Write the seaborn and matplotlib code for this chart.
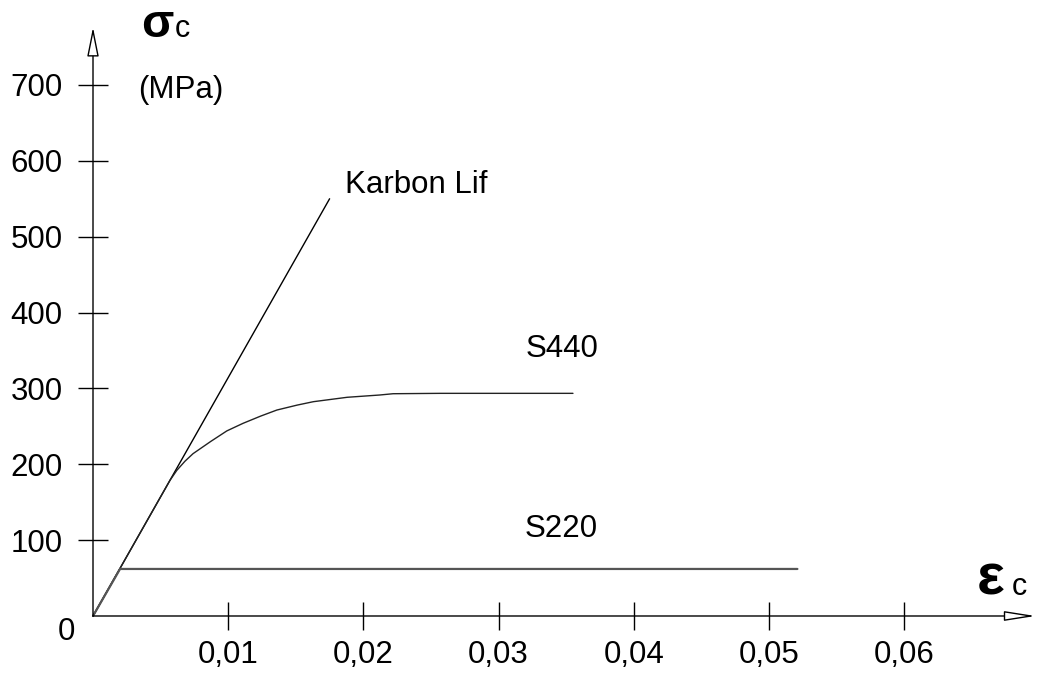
import matplotlib
matplotlib.use("Agg")
import matplotlib.pyplot as plt
import seaborn as sns
import pandas as pd

# Stress-strain curves (strain, stress in MPa)
carbon_eps = [0.0, 0.0175]
carbon_sig = [0.0, 550.0]

s440_eps = [0.0, 0.0057, 0.0062, 0.0068, 0.0074, 0.0087, 0.0099, 0.0111,
            0.0124, 0.0136, 0.0151, 0.0163, 0.0188, 0.0212, 0.0222, 0.0257,
            0.0355]
s440_sig = [0.0, 179.0, 192.0, 204.0, 214.0, 230.0, 244.0, 254.0,
            263.5, 271.5, 278.0, 282.5, 288.3, 291.3, 293.0, 293.5,
            293.5]

s220_eps = [0.0, 0.0020, 0.0521]
s220_sig = [0.0, 62.0, 62.0]

x_ticks = [0.01, 0.02, 0.03, 0.04, 0.05, 0.06]
x_tick_labels = ["0,01", "0,02", "0,03", "0,04", "0,05", "0,06"]
y_ticks = [100, 200, 300, 400, 500, 600, 700]
y_tick_labels = ["100", "200", "300", "400", "500", "600", "700"]

df = pd.concat([
    pd.DataFrame({"eps": carbon_eps, "sig": carbon_sig, "mat": "Karbon Lif"}),
    pd.DataFrame({"eps": s440_eps, "sig": s440_sig, "mat": "S440"}),
    pd.DataFrame({"eps": s220_eps, "sig": s220_sig, "mat": "S220"}),
], ignore_index=True)

sns.set_theme(style="white")
plt.rcParams["font.family"] = ["Liberation Sans", "DejaVu Sans"]
plt.rcParams["text.color"] = "black"

fig = plt.figure(figsize=(10.38, 6.74), dpi=100)
ax = fig.add_axes([0, 0, 1, 1])
ax.set_facecolor("white")

styles = {"Karbon Lif": ("black", 1.0), "S440": ("#222222", 1.0), "S220": ("#555555", 1.6)}
for mat, grp in df.groupby("mat", sort=False):
    col, lw = styles[mat]
    sns.lineplot(data=grp, x="eps", y="sig", sort=False, estimator=None,
                 color=col, lw=lw, ax=ax, legend=False)

ax.set_xlim(-0.006879, 0.069896)
ax.set_ylim(-76.46, 812.0)

for s in ax.spines.values():
    s.set_visible(False)
ax.spines["left"].set_position(("data", 0))
ax.spines["bottom"].set_position(("data", 0))

ax.set_xticks(x_ticks)
ax.set_xticklabels(x_tick_labels)
ax.set_yticks(y_ticks)
ax.set_yticklabels(y_tick_labels)
ax.tick_params(axis="y", direction="inout", length=22, width=1, color="black",
               pad=11, labelsize=22.5, labelcolor="black", left=True)
ax.tick_params(axis="x", direction="inout", length=20, width=1, color="black",
               pad=7, labelsize=22.5, labelcolor="black", bottom=True)
ax.set_xlabel("")
ax.set_ylabel("")
ax.grid(False)

# Axis arrows with open heads
ax.annotate("", xy=(0, 776), xytext=(0, 0), xycoords="data",
            arrowprops=dict(arrowstyle="-|>,head_length=1.8,head_width=0.36",
                            mutation_scale=10, fc="white", ec="black", lw=1.0,
                            shrinkA=0, shrinkB=0), zorder=5)
ax.annotate("", xy=(0.0697, 0), xytext=(0, 0), xycoords="data",
            arrowprops=dict(arrowstyle="-|>,head_length=1.9,head_width=0.3",
                            mutation_scale=10, fc="white", ec="black", lw=1.0,
                            shrinkA=0, shrinkB=0), zorder=5)

# Curve labels
ax.text(0.01864, 557.6, "Karbon Lif", fontsize=22.5, va="baseline", ha="left")
ax.text(0.03203, 341.4, "S440", fontsize=22.5, va="baseline", ha="left")
ax.text(0.03195, 104.1, "S220", fontsize=22.5, va="baseline", ha="left")

# Axis titles
ax.text(0.00355, 763.2, "σ", fontsize=34, fontweight="bold", va="baseline", ha="left")
ax.text(0.00605, 763.2, "c", fontsize=22, va="baseline", ha="left")
ax.text(0.00333, 682.8, "(MPa)", fontsize=22.5, va="baseline", ha="left")
ax.text(0.0654, 27.7, "ε", fontsize=42, fontweight="bold", va="baseline", ha="left")
ax.text(0.06795, 27.7, "c", fontsize=22, va="baseline", ha="left")
ax.text(-0.002, -31.6, "0", fontsize=22.5, va="baseline", ha="center")

fig.savefig("out.png", dpi=100, facecolor="white")
